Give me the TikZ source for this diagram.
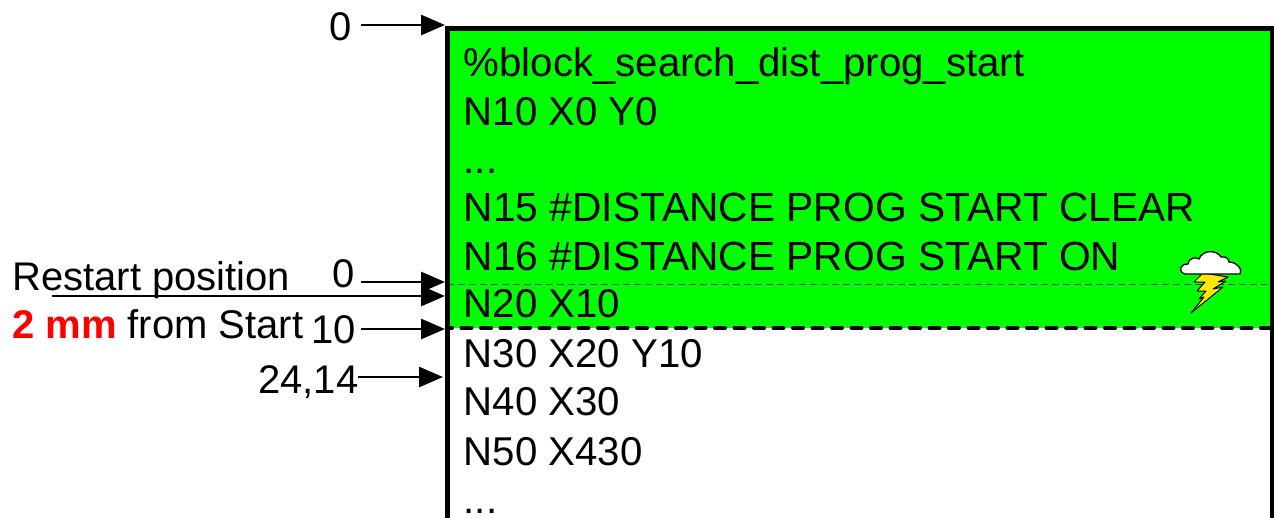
\documentclass[tikz,border=0pt]{standalone}
\usepackage{fontspec}
\setmainfont{Liberation Sans}
\usetikzlibrary{arrows.meta}
\tikzset{
  x=1pt,y=-1pt,
  code/.style={anchor=base west,inner sep=0pt,font=\fontsize{40.2}{40.2}\selectfont},
  codew/.style={anchor=base west,inner sep=0pt,font=\fontsize{40.75}{40.75}\selectfont},
  lab/.style={anchor=base east,inner sep=0pt,font=\fontsize{40}{40}\selectfont},
  labw/.style={anchor=base west,inner sep=0pt,font=\fontsize{40}{40}\selectfont},
  arr/.style={line width=2.8pt,-{Triangle[length=24pt,width=20pt]}},
}
\definecolor{brightgreen}{RGB}{0,255,0}
\definecolor{boltyellow}{RGB}{255,232,0}
\begin{document}
\begin{tikzpicture}
\useasboundingbox (0,0) rectangle (1274,517);
\fill[brightgreen] (447,28) rectangle (1272,328);
\node[code] (t1) at (463.5,76) {\%block\_search\_dist\_prog\_start};
\node[code] (t2) at (463.5,125) {N10 X0 Y0};
\node[code] (t3) at (463.5,173) {...};
\node[codew] (t4) at (463.5,221) {N15 \#DISTANCE PROG START CLEAR};
\node[codew] (t5) at (463.5,270) {N16 \#DISTANCE PROG START ON};
\node[code] (t6) at (463.5,317) {N20 X10};
\node[code] (t7) at (463.5,367) {N30 X20 Y10};
\node[code] (t8) at (463.5,415) {N40 X30};
\node[code] (t9) at (463.5,465) {N50 X430};
\node[code] (t10) at (463.5,513) {...};
\draw[line width=1pt,dash pattern=on 7pt off 4pt,black!65!brightgreen] (447,284) -- (1272,284);
\draw[line width=4pt,dash pattern=on 10pt off 9.5pt,line cap=round] (1271,328) -- (447,328);
\draw[line width=5pt] (447,530) -- (447,28) -- (1272,28) -- (1272,530);
\node[lab] (l0) at (352,40) {0};
\node[lab] (l1) at (355,287) {0};
\node[lab] (l2) at (356,343) {10};
\node[lab] (l3) at (358.5,393) {24,14};
\node[labw] (r1) at (12,290) {Restart position};
\node[labw] (r2) at (12,338) {\textcolor{red}{\textbf{2 mm}} from Start};
\coordinate (a0) at (445,25);
\coordinate (a1) at (445,282);
\coordinate (a2s) at (52,296);
\coordinate (a2) at (445,296);
\coordinate (a3) at (445,329);
\coordinate (a4) at (443,377);
\draw[arr] (361,25) -- (a0);
\draw[arr] (361,282) -- (a1);
\draw[arr] (a2s) -- (a2);
\draw[arr] (361,329) -- (a3);
\draw[arr] (358,377) -- (a4);
\draw[fill=boltyellow,line width=1pt,line join=round] (1194,282) -- (1203,273) -- (1228,277) -- (1218,282) -- (1226,281) -- (1213,289) -- (1223,287) -- (1191,313) -- (1204,297) -- (1199,299) -- (1206,291) -- (1197,291) -- (1205,282) -- cycle;
\draw[fill=white,line width=1.3pt] (1185,274) .. controls (1178,272) and (1179,264) .. (1188,264) .. controls (1189,257) and (1197,257) .. (1199,259) .. controls (1203,249) and (1217,250) .. (1221,257) .. controls (1226,256) and (1229,259) .. (1229,262) .. controls (1237,262) and (1243,270) .. (1240,274) -- cycle;
\end{tikzpicture}
\end{document}
